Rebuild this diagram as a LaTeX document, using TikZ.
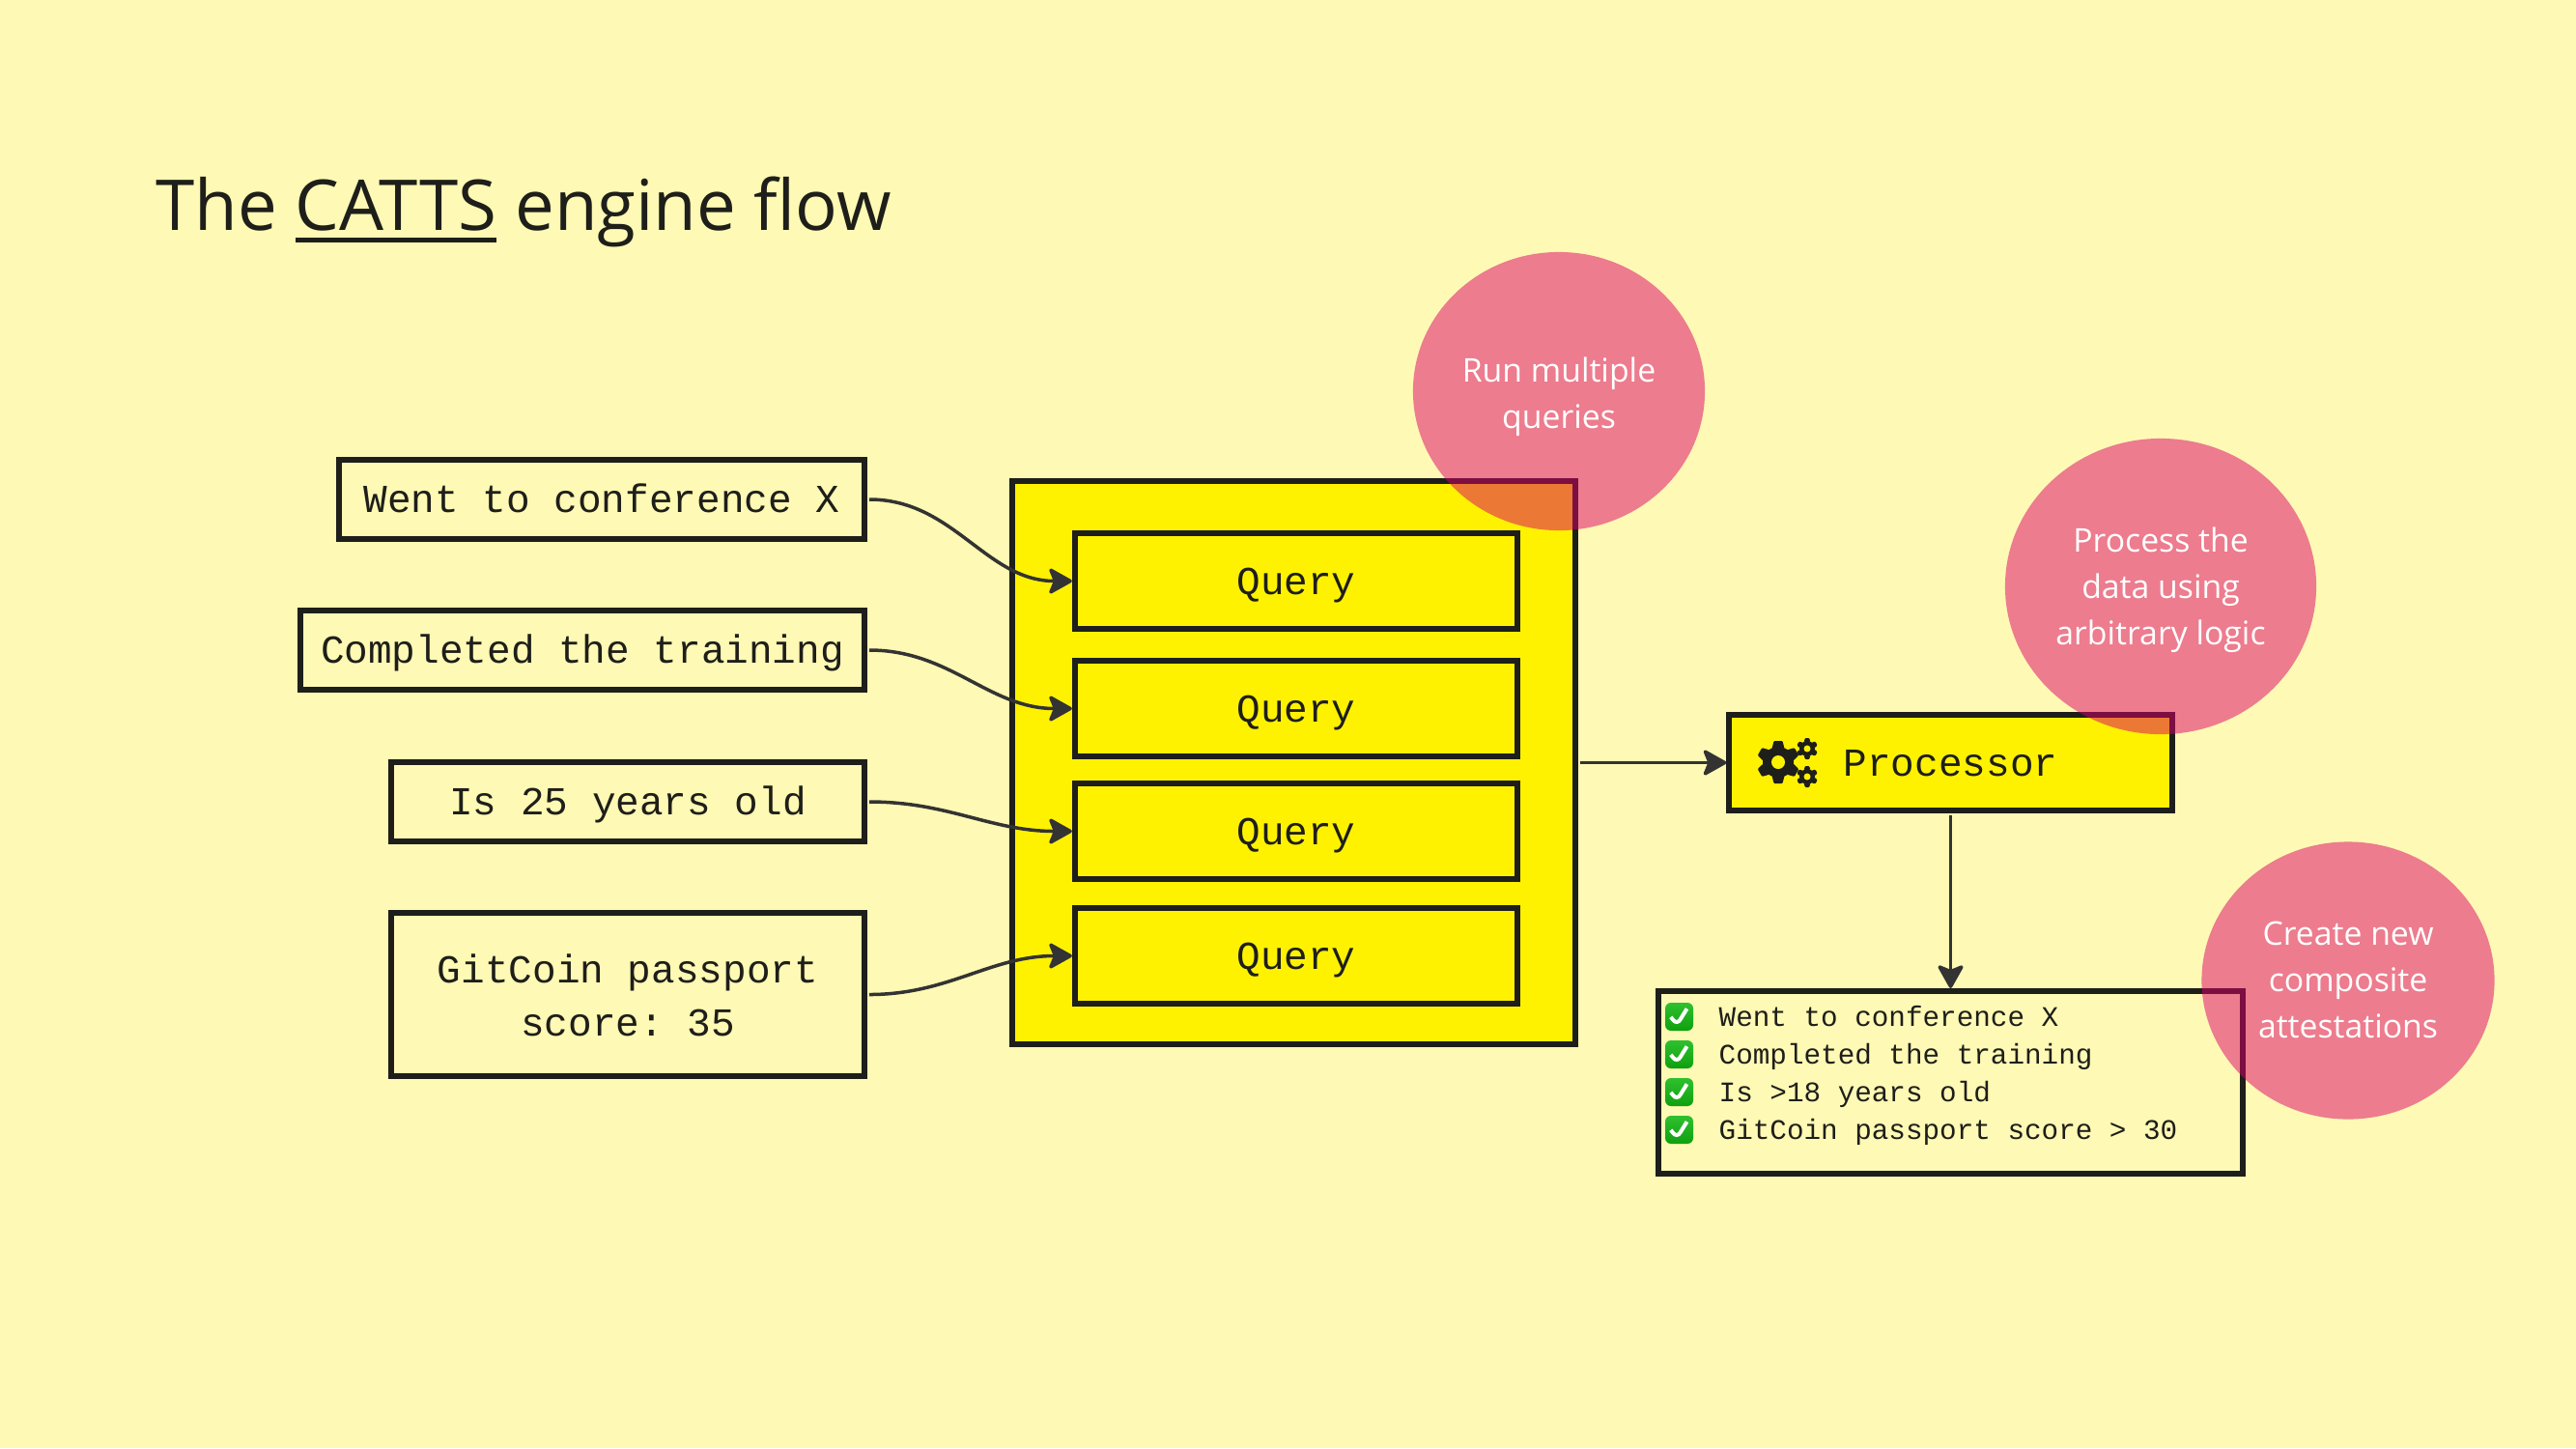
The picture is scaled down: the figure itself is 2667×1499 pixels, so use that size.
\documentclass[tikz,border=0pt]{standalone}
\usepackage{fontspec}
\setmainfont{Open Sans}
\setmonofont{Liberation Mono}
\usepackage{xcolor}
\usetikzlibrary{arrows.meta,shapes.geometric,shadings}
\definecolor{paperyellow}{HTML}{FEF9B4}
\definecolor{boxyellow}{HTML}{FFF200}
\definecolor{inkblack}{HTML}{1E1E1A}
\definecolor{flowgray}{HTML}{333333}
\definecolor{notepink}{HTML}{DB006A}
\definecolor{tickgreen}{HTML}{0FA00F}
\definecolor{ticklight}{HTML}{2EC02E}
\newcommand{\ruled}[1]{\leavevmode\vtop{\hbox{#1}\kern 2pt\hrule height 1.4pt}}
\tikzset{
    box/.style={draw=inkblack, line width=0.06cm, rectangle, inner sep=0pt, font=\ttfamily\fontsize{11.67}{15.64}\selectfont, text=inkblack, text height=0.27cm, text depth=0pt},
    source/.style={box, fill=paperyellow, minimum height=0.82cm},
    query/.style={box, fill=boxyellow, minimum width=4.58cm, minimum height=0.99cm},
    listitem/.style={inner sep=0pt, anchor=base west, font=\ttfamily\fontsize{8.33}{10}\selectfont, text=inkblack},
    note/.style={ellipse, fill=notepink, fill opacity=0.5, text opacity=1, text=white, inner sep=0pt, align=center, text depth=0pt, font=\fontsize{9.6}{13.55}\selectfont},
    flow/.style={draw=flowgray, line width=0.035cm, -{Stealth[length=0.27cm, width=0.3cm, inset=0.06cm, round]}},
    tickbox/.style={rectangle, rounded corners=0.06cm, inner sep=0pt, minimum size=0.29cm, top color=ticklight, bottom color=tickgreen,
        path picture={\draw[white, line width=0.04cm, shift={(path picture bounding box.center)}] (-8.7,0.3) -- (-2.3,8.3) -- (8,-8.3);}},
    gearwheel/.pic={
        \fill[inkblack] (0,0) circle (16);
        \foreach \a in {0,60,...,300} {
            \fill[inkblack, rotate=\a, rounded corners=0.01cm] (-6.5,-14) -- (-4.5,-22) -- (4.5,-22) -- (6.5,-14) -- cycle;
        }
        \fill[boxyellow] (0,0) circle (7);
    }
}
\begin{document}
\begin{tikzpicture}[x=0.01cm, y=-0.01cm]
    \useasboundingbox (0,0) rectangle (2667,1499);
    \fill[paperyellow] (0,0) rectangle (2667,1499);
    \node[anchor=base west, inner sep=0pt, text=inkblack, font=\fontsize{20.65}{26}\selectfont] (title) at (161,238) {The \ruled{CATTS} engine flow};

    \node[source, minimum width=5.44cm] (went) at (623,517) {Went to conference X};
    \node[source, minimum width=5.84cm] (training) at (603,673) {Completed the training};
    \node[source, minimum width=4.90cm] (age) at (650,830) {Is 25 years old};
    \node[source, minimum width=4.90cm, minimum height=1.69cm, align=center, text height=0.85cm] (passport) at (650,1029.5) {GitCoin passport\\score: 35};

    \node[box, fill=boxyellow, minimum size=5.83cm] (engine) at (1339.5,789.5) {};
    \node[query] (querya) at (1342,601.5) {Query};
    \node[query] (queryb) at (1342,733.5) {Query};
    \node[query] (queryc) at (1342,860.5) {Query};
    \node[query] (queryd) at (1342,989.5) {Query};

    \node[query] (processor) at (2019.5,789.5) {Processor};
    \pic at (1841,789) {gearwheel};
    \pic[scale=0.5] at (1871,775) {gearwheel};
    \pic[scale=0.5] at (1871,804) {gearwheel};

    \node[box, minimum width=6.05cm, minimum height=1.89cm] (results) at (2019.5,1120.5) {};
    \node[tickbox] (ticka) at (1738.5,1052.5) {};
    \node[tickbox] (tickb) at (1738.5,1091.5) {};
    \node[tickbox] (tickc) at (1738.5,1130.5) {};
    \node[tickbox] (tickd) at (1738.5,1169.5) {};
    \node[listitem] (itema) at (1779,1062) {Went to conference X};
    \node[listitem] (itemb) at (1779,1101) {Completed the training};
    \node[listitem] (itemc) at (1779,1140) {Is >18 years old};
    \node[listitem] (itemd) at (1779,1179) {GitCoin passport score > 30};

    \draw[flow, shorten <=0.02cm] (went.east) to[out=0, in=180] (querya.west);
    \draw[flow, shorten <=0.02cm] (training.east) to[out=0, in=180] (queryb.west);
    \draw[flow, shorten <=0.02cm] (age.east) to[out=0, in=180] (queryc.west);
    \draw[flow, shorten <=0.02cm] (passport.east) to[out=0, in=180] (queryd.west);
    \draw[flow, shorten <=0.02cm] (engine.east) -- (processor.west);
    \draw[flow, shorten <=0.02cm] (processor.south) -- (results.north);

    \node[note, minimum width=3.02cm, minimum height=2.88cm, text height=0.76cm] (notequeries) at (1614,405) {Run multiple\\queries};
    \node[note, minimum width=3.22cm, minimum height=3.06cm, text height=1.2cm] (noteprocess) at (2237,607) {Process the\\data using\\arbitrary logic};
    \node[note, minimum width=3.03cm, minimum height=2.87cm, text height=1.18cm] (notecreate) at (2431,1015) {Create new\\composite\\attestations};
\end{tikzpicture}
\end{document}
